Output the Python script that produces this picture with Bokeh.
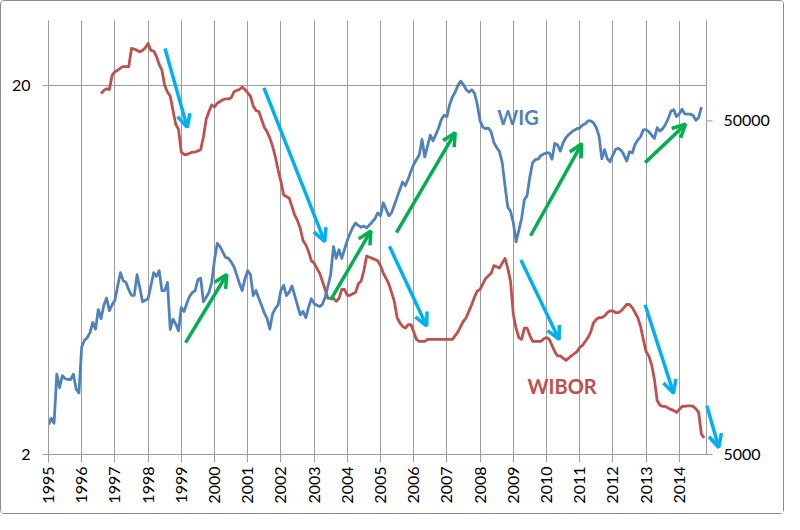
import math
import numpy as np
from bokeh.plotting import figure
from bokeh.models import (Range1d, LogScale, FixedTicker, BasicTickFormatter,
                          Arrow, OpenHead, Label)
from bokeh.embed import file_html
from bokeh.resources import INLINE

# ---------------- data (monthly) ----------------
first_year = 1995
wig_first_month = 0        # Jan 1995
wig = [
    6140, 6420, 6200, 8700, 7930, 8620, 8450, 8390, 8390, 8700, 7850, 7650,
    10500, 11000, 11200, 11600, 12440, 11880, 13600, 12780, 14000, 14730, 13500, 14050,
    14500, 16000, 17540, 16600, 16400, 15600, 15000, 15000, 17300, 15800, 14350, 14500,
    14650, 16000, 17540, 17100, 17770, 15500, 15500, 16400, 11850, 12720, 12300, 11740,
    13800, 13420, 14200, 14900, 15300, 15500, 16700, 16890, 14350, 14800, 15300, 16400,
    19170, 21480, 21000, 20200, 19500, 19400, 18900, 18300, 17300, 16300, 15500, 16800,
    17770, 17300, 14970, 15500, 14700, 14000, 13300, 12800, 11880, 13200, 13700, 14050,
    15500, 16070, 14970, 15340, 16000, 15000, 14000, 13100, 13420, 12850, 13800, 14650,
    14200, 14000, 13880, 14100, 14800, 16000, 17300, 21000, 19350, 20550, 19350, 20600,
    21900, 23000, 24000, 24700, 24300, 24000, 24200, 23900, 24400, 24900, 25450, 26500,
    26000, 28400, 27200, 26000, 26500, 28000, 29500, 31160, 32800, 32000, 33500, 35300,
    37000, 38300, 39500, 44000, 39000, 42000, 45300, 43600, 45500, 47600, 50500, 52000,
    51500, 56000, 59000, 61000, 64000, 65800, 64100, 62000, 61000, 62000, 60500, 56000,
    50000, 47900, 47400, 47600, 46300, 43000, 41600, 40500, 37500, 32000, 27600, 26800,
    24800, 21700, 23500, 25500, 29000, 29900, 34000, 37500, 38300, 38400, 39400, 39800,
    40100, 40100, 38400, 42800, 42400, 40600, 43000, 44500, 45500, 46200, 46900, 47400,
    47600, 48500, 49000, 50000, 50000, 49300, 47800, 45000, 38500, 41000, 38500, 37700,
    39500, 41100, 41400, 40800, 39500, 37900, 40400, 40100, 42500, 43850, 44800, 47000,
    47100, 46400, 45300, 44300, 47700, 46600, 47400, 48800, 50800, 53500, 54000, 51500,
    52500, 54200, 52500, 52400, 52400, 51900, 50200, 51200, 55000,
]
wibor_first_month = 19     # Aug 1996
wibor = [
    19.0, 19.4, 19.6, 19.5, 21.3,
    21.8, 22.0, 22.3, 22.5, 22.5, 22.5, 25.2, 25.1, 24.9, 24.7, 24.9, 25.3,
    26.0, 24.9, 24.8, 24.0, 22.8, 22.0, 20.0, 19.2, 18.7, 17.1, 15.7, 15.2,
    13.2, 13.0, 13.0, 13.1, 13.2, 13.2, 13.3, 13.4, 14.5, 16.2, 17.0, 17.7,
    17.5, 17.9, 18.1, 18.3, 18.4, 18.4, 18.5, 19.2, 19.4, 19.5, 19.8, 19.5,
    19.1, 18.7, 17.6, 17.1, 17.0, 16.2, 15.4, 15.0, 14.4, 13.7, 12.8, 11.8,
    11.0, 10.1, 10.0, 9.9, 9.4, 8.9, 8.6, 8.2, 7.6, 7.4, 7.1, 6.7,
    6.6, 6.4, 6.2, 5.9, 5.6, 5.3, 5.3, 5.3, 5.2, 5.3, 5.6, 5.6,
    5.4, 5.4, 5.45, 5.5, 5.8, 5.9, 6.3, 6.9, 6.85, 6.8, 6.75, 6.7,
    6.5, 6.2, 6.0, 5.8, 5.5, 5.2, 4.7, 4.55, 4.45, 4.4, 4.5, 4.5,
    4.3, 4.1, 4.05, 4.05, 4.05, 4.1, 4.1, 4.1, 4.1, 4.1, 4.1, 4.1,
    4.1, 4.1, 4.1, 4.2, 4.3, 4.45, 4.6, 4.7, 4.9, 5.1, 5.35, 5.55,
    5.6, 5.8, 6.0, 6.1, 6.2, 6.5, 6.45, 6.4, 6.6, 6.8, 6.4, 5.9,
    4.8, 4.4, 4.15, 4.1, 4.4, 4.4, 4.2, 4.05, 4.05, 4.05, 4.05, 4.12,
    4.15, 4.1, 3.95, 3.8, 3.7, 3.7, 3.65, 3.6, 3.65, 3.7, 3.75, 3.8,
    3.9, 3.95, 4.05, 4.15, 4.3, 4.55, 4.65, 4.7, 4.7, 4.75, 4.85, 4.9,
    4.9, 4.85, 4.85, 4.9, 5.0, 5.1, 5.1, 5.0, 4.85, 4.7, 4.45, 4.1,
    3.8, 3.7, 3.5, 3.2, 2.8, 2.72, 2.7, 2.7, 2.67, 2.65, 2.63, 2.6,
    2.65, 2.7, 2.7, 2.71, 2.71, 2.7, 2.66, 2.6, 2.27, 2.22,
]
year_ticks = list(range(1995, 2015))
wibor_ticks = [2, 20]
wig_ticks = [5000, 50000]
wig_tick_labels = ["5000", "50000"]

# annotation arrows (year, WIBOR-scale value)
down_x0 = [1998.51, 2001.49, 2005.27, 2009.23, 2012.97, 2014.83]
down_y0 = [25.2, 19.7, 7.33, 6.73, 5.09, 2.71]
down_x1 = [1999.18, 2003.32, 2006.39, 2010.38, 2013.83, 2015.19]
down_y1 = [15.4, 7.55, 4.46, 4.10, 2.93, 2.09]
up_x0 = [1999.13, 2003.50, 2005.48, 2009.52, 2012.97]
up_y0 = [4.02, 5.25, 7.98, 7.83, 12.36]
up_x1 = [2000.37, 2004.71, 2007.25, 2011.06, 2014.19]
up_y1 = [6.15, 8.07, 14.9, 13.9, 15.7]

# ---------------- layout ----------------
FONT = "Lato"
GRID = "#9c9c9c"
BLUE = "#4F81BD"
RED = "#C0504D"

W, H = 784, 514
left_b, top_b, right_b = 47, 19, 9
axis_px_x = 658          # pixels from 1995 to the right axis line
axis_px_y = 434          # pixels from value 2 (bottom axis) to the top
below_px = 8             # frame extends this far below the bottom axis line
frame_w = W - left_b - right_b
frame_h = axis_px_y + below_px
bottom_b = H - top_b - frame_h

x_axis_end = 2014.82
x_range_end = first_year + (x_axis_end - first_year) * frame_w / axis_px_x
wibor_lo, wibor_hi = 2.0, 30.0
wig_lo, wig_hi = 5000.0, 100000.0
ext_l = 10 ** (below_px * math.log10(wibor_hi / wibor_lo) / axis_px_y)
ext_r = 10 ** (below_px * math.log10(wig_hi / wig_lo) / axis_px_y)

p = figure(width=W, height=H, output_backend="svg", toolbar_location=None,
           x_range=Range1d(first_year, x_range_end),
           y_range=Range1d(wibor_lo / ext_l, wibor_hi),
           y_axis_type="log",
           min_border_left=left_b, min_border_right=right_b,
           min_border_top=top_b, min_border_bottom=bottom_b)
p.extra_y_ranges = {"wig": Range1d(wig_lo / ext_r, wig_hi)}
p.extra_y_scales = {"wig": LogScale()}
p.outline_line_color = None
p.background_fill_color = "white"
p.border_fill_color = "white"
p.styles = {"border": "1px solid #8a8a8a", "border-radius": "4px"}

# grid: vertical year lines (they also form the tick marks below the axis)
p.xgrid.ticker = FixedTicker(ticks=year_ticks)
p.xgrid.grid_line_color = GRID
p.ygrid.visible = False
# horizontal line at 20, bottom axis line, right axis line
p.segment(x0=[first_year, first_year, x_axis_end],
          y0=[wibor_ticks[1], wibor_lo, wibor_lo],
          x1=[x_axis_end, x_axis_end, x_axis_end],
          y1=[wibor_ticks[1], wibor_lo, wibor_hi],
          line_color=GRID, line_width=1)
# right axis ticks and labels
p.ray(x=[x_axis_end] * len(wig_ticks), y=wig_ticks, length=6, length_units="screen",
      angle=0, line_color=GRID, line_width=1, y_range_name="wig")
for t, lab in zip(wig_ticks, wig_tick_labels):
    p.add_layout(Label(x=x_axis_end, y=t, y_range_name="wig", text=lab, x_offset=17,
                       text_font=FONT, text_font_size="16px", text_color="black",
                       text_baseline="middle", text_align="left"))

# series
wig_x = first_year + (wig_first_month + np.arange(len(wig))) / 12.0
wibor_x = first_year + (wibor_first_month + np.arange(len(wibor))) / 12.0
p.line(wibor_x, wibor, line_color=RED, line_width=2.8, line_join="round")
p.line(wig_x, wig, line_color=BLUE, line_width=2.8, line_join="round", y_range_name="wig")

# x axis (labels only; ticks come from the grid lines)
xa = p.xaxis[0]
xa.ticker = FixedTicker(ticks=year_ticks)
xa.formatter = BasicTickFormatter(use_scientific=False)
xa.major_label_orientation = math.pi / 2
xa.major_tick_out = 0
xa.major_tick_in = 0
xa.minor_tick_out = 0
xa.minor_tick_in = 0
xa.major_label_standoff = 4
xa.axis_line_color = None
xa.major_tick_line_color = None

# left axis
ya = p.yaxis[0]
ya.ticker = FixedTicker(ticks=wibor_ticks)
ya.formatter = BasicTickFormatter(use_scientific=False)
ya.major_tick_out = 6
ya.major_tick_in = 0
ya.minor_tick_line_color = None
ya.major_label_standoff = 12
ya.axis_line_color = GRID
ya.major_tick_line_color = GRID

for ax in (xa, ya):
    ax.major_label_text_font = FONT
    ax.major_label_text_font_size = "16px"
    ax.major_label_text_color = "black"

# arrows
for i in range(len(down_x0)):
    p.add_layout(Arrow(x_start=down_x0[i], y_start=down_y0[i], x_end=down_x1[i], y_end=down_y1[i],
                       line_color="#00B0F0", line_width=3.5,
                       end=OpenHead(size=13, line_color="#00B0F0", line_width=3.5)))
for i in range(len(up_x0)):
    p.add_layout(Arrow(x_start=up_x0[i], y_start=up_y0[i], x_end=up_x1[i], y_end=up_y1[i],
                       line_color="#00B050", line_width=3.5,
                       end=OpenHead(size=13, line_color="#00B050", line_width=3.5)))

# series labels
p.add_layout(Label(x=2008.52, y=51260, y_range_name="wig", text="WIG",
                   text_font=FONT, text_font_style="bold", text_font_size="20px",
                   text_color=BLUE, text_baseline="alphabetic", text_align="left"))
p.add_layout(Label(x=2009.43, y=3.06, text="WIBOR",
                   text_font=FONT, text_font_style="bold", text_font_size="20px",
                   text_color=RED, text_baseline="alphabetic", text_align="left"))

open("out.html", "w").write(file_html(p, INLINE))
